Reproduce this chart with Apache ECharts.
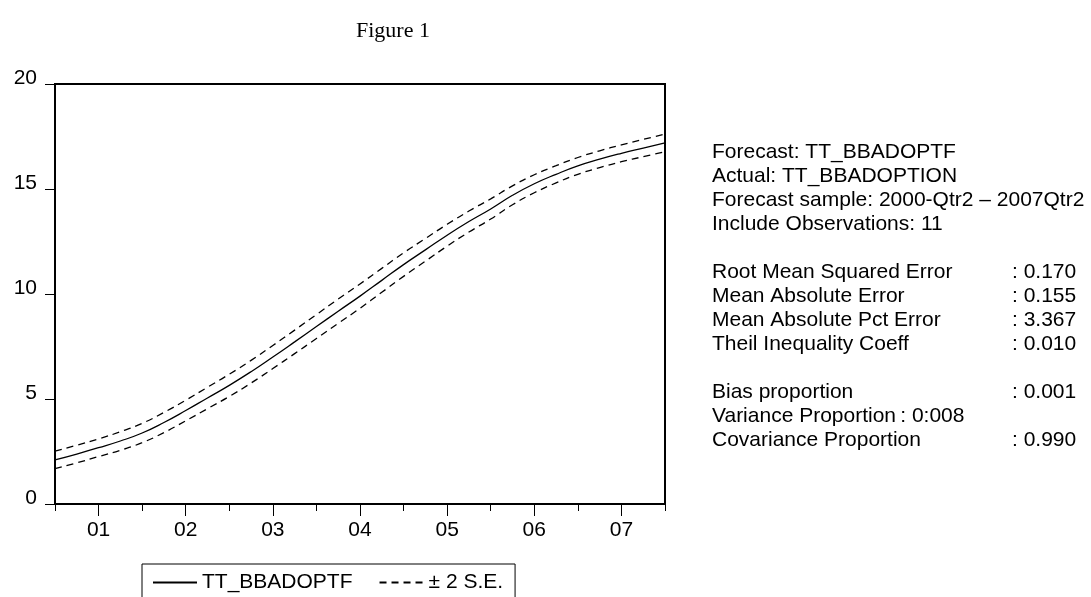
<!DOCTYPE html>
<html>
	<head>
		<meta charset="utf-8">
		<title>Figure 1</title>
	</head>
	<body style="margin:0;background:#fff;">
		<!-- chart area -->
		<div id="container" style="width: 1091px;height:597px;"></div>
	</body>
	<script src="https://cdn.jsdelivr.net/npm/echarts@6/dist/echarts.min.js"></script>
	<script type="text/javascript">
		'use strict'
		// quarterly x positions, Q1 of each year carries the year label
		var quarters = ['2000Q3','2000Q4','2001Q1','2001Q2','2001Q3','2001Q4','2002Q1','2002Q2','2002Q3','2002Q4',
			'2003Q1','2003Q2','2003Q3','2003Q4','2004Q1','2004Q2','2004Q3','2004Q4','2005Q1','2005Q2',
			'2005Q3','2005Q4','2006Q1','2006Q2','2006Q3','2006Q4','2007Q1','2007Q2','2007Q3'];
		// forecast TT_BBADOPTF
		var forecast = [2.10, 2.38, 2.68, 3.00, 3.38, 3.88, 4.45, 5.05, 5.65, 6.30,
			7.00, 7.72, 8.45, 9.18, 9.90, 10.65, 11.40, 12.10, 12.80, 13.45,
			14.05, 14.70, 15.25, 15.70, 16.10, 16.42, 16.70, 16.95, 17.20];
		// +2 S.E. band
		var upperBand = [2.52, 2.80, 3.10, 3.44, 3.84, 4.36, 4.94, 5.56, 6.18, 6.84,
			7.55, 8.28, 9.02, 9.76, 10.48, 11.22, 11.96, 12.64, 13.32, 13.95,
			14.53, 15.15, 15.68, 16.11, 16.50, 16.82, 17.10, 17.36, 17.62];
		// -2 S.E. band
		var lowerBand = [1.68, 1.96, 2.26, 2.56, 2.92, 3.40, 3.96, 4.54, 5.12, 5.76,
			6.45, 7.16, 7.88, 8.60, 9.32, 10.08, 10.84, 11.56, 12.28, 12.95,
			13.57, 14.25, 14.82, 15.29, 15.70, 16.02, 16.30, 16.54, 16.78];

		// text block on the right
		var infoLines = ['Forecast: TT_BBADOPTF', 'Actual: TT_BBADOPTION',
			'Forecast sample: 2000-Qtr2 \u2013 2007Qtr2', 'Include Observations: 11'];
		var errLabels = ['Root Mean Squared Error', 'Mean Absolute Error', 'Mean Absolute Pct Error', 'Theil Inequality Coeff'];
		var errValues = [': 0.170', ': 0.155', ': 3.367', ': 0.010'];
		var propLabels = ['Bias proportion', 'Variance Proportion\u2009: 0:008', 'Covariance Proportion'];
		var propValues = [': 0.001', '', ': 0.990'];

		var font = 'Arial, "Liberation Sans", sans-serif';
		var black = '#000';

		var myCharts = echarts.init(document.getElementById('container'), null, {renderer: 'canvas'});

		// title + right-hand text
		var graphics = [{
			type: 'text',
			left: 356,
			top: 20,
			style: {text: 'Figure 1', font: '22px "Liberation Serif", "Times New Roman", serif', fill: black}
		}];
		var lineH = 24;
		var y0 = 142;
		function addLine(txt, x, row) {
			graphics.push({
				type: 'text',
				left: x,
				top: y0 + row * lineH,
				style: {text: txt, font: '21px ' + font, fill: black}
			});
		}
		infoLines.forEach(function (t, i) { addLine(t, 712, i); });
		errLabels.forEach(function (t, i) { addLine(t, 712, i + 5); addLine(errValues[i], 1012, i + 5); });
		propLabels.forEach(function (t, i) {
			addLine(t, 712, i + 10);
			if (propValues[i]) addLine(propValues[i], 1012, i + 10);
		});

		var isYearTick = function (idx) { return idx % 4 === 2; };
		var isHalfTick = function (idx) { return idx % 4 === 0; };

		var option = {
			animation: false,
			backgroundColor: '#fff',
			grid: {
				show: true,
				left: 55,
				right: 426,
				top: 84,
				bottom: 93,
				borderColor: black,
				borderWidth: 2,
				containLabel: false
			},
			legend: {
				left: 142,
				top: 564,
				padding: [8, 12, 10, 10],
				borderColor: black,
				borderWidth: 1,
				itemWidth: 44,
				itemHeight: 14,
				itemGap: 26,
				itemStyle: {opacity: 0},
				textStyle: {fontSize: 21, fontFamily: font, color: black},
				data: ['TT_BBADOPTF', '\u00b1 2 S.E.']
			},
			xAxis: [{
				type: 'category',
				data: quarters,
				boundaryGap: false,
				position: 'bottom',
				axisLine: {show: true, lineStyle: {color: black, width: 2}},
				axisTick: {show: true, interval: isYearTick, length: 12, lineStyle: {color: black, width: 1}},
				axisLabel: {
					interval: isYearTick,
					margin: 16,
					fontSize: 21,
					fontFamily: font,
					color: black,
					formatter: function (v) { return v.slice(2, 4); }
				},
				splitLine: {show: false}
			}, {
				// shorter mid-year ticks
				type: 'category',
				data: quarters,
				boundaryGap: false,
				position: 'bottom',
				axisLine: {show: false},
				axisTick: {show: true, interval: isHalfTick, length: 7, lineStyle: {color: black, width: 1}},
				axisLabel: {show: false},
				splitLine: {show: false}
			}],
			yAxis: {
				type: 'value',
				min: 0,
				max: 20,
				interval: 5,
				axisLine: {show: true, lineStyle: {color: black, width: 2}},
				axisTick: {show: true, length: 10, lineStyle: {color: black, width: 1}},
				axisLabel: {margin: 18, fontSize: 21, fontFamily: font, color: black, verticalAlign: 'bottom', lineHeight: 12},
				splitLine: {show: false}
			},
			series: [{
				name: 'TT_BBADOPTF',
				type: 'line',
				data: forecast,
				smooth: true,
				symbol: 'none',
				lineStyle: {color: black, width: 1.3, type: 'solid'},
				itemStyle: {color: black}
			}, {
				name: '\u00b1 2 S.E.',
				type: 'line',
				data: upperBand,
				smooth: true,
				symbol: 'none',
				lineStyle: {color: black, width: 1.3, type: [7, 5]},
				itemStyle: {color: black}
			}, {
				name: '\u00b1 2 S.E.',
				type: 'line',
				data: lowerBand,
				smooth: true,
				symbol: 'none',
				lineStyle: {color: black, width: 1.3, type: [7, 5]},
				itemStyle: {color: black}
			}],
			graphic: graphics
		};
		myCharts.setOption(option);
	</script>
</html>
